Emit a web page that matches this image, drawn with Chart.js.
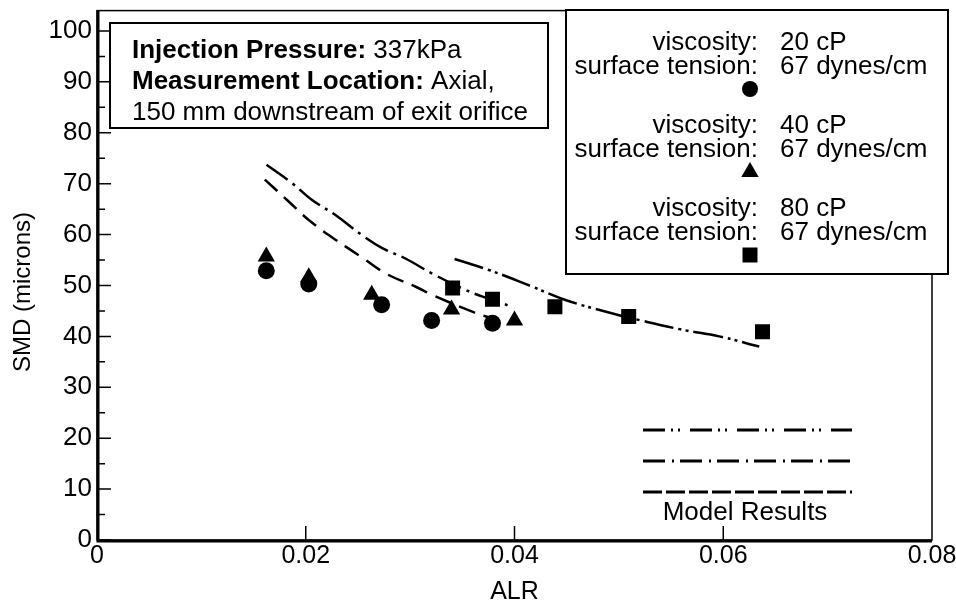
<!DOCTYPE html>
<html><head><meta charset="utf-8">
<script src="https://cdn.jsdelivr.net/npm/chart.js@4.4.0/dist/chart.umd.min.js"></script>
<style>html,body{margin:0;padding:0;background:#fff;}#wrap{width:956px;height:605px;}</style>
</head><body><div id="wrap"><canvas id="c" width="956" height="605"></canvas></div>
<script>
// ---- data ----
const xTicks = [0, 0.02, 0.04, 0.06, 0.08];
const xTickLabels = ['0', '0.02', '0.04', '0.06', '0.08'];
const yTicks = [0, 10, 20, 30, 40, 50, 60, 70, 80, 90, 100];
const yMinorTicks = [5, 15, 25, 35, 45, 55, 65, 75, 85, 95];

const alr20 = [0.01622, 0.02029, 0.02727, 0.03206, 0.03789];
const smd20 = [52.9, 50.3, 46.2, 43.1, 42.6];
const alr40 = [0.01622, 0.02029, 0.02632, 0.03397, 0.04000];
const smd40 = [55.7, 51.6, 48.2, 45.3, 43.1];
const alr80 = [0.03407, 0.03789, 0.04387, 0.05094, 0.06376];
const smd80 = [49.5, 47.3, 45.8, 43.9, 40.9];

const modelAlr20 = [0.01608, 0.01831, 0.02038, 0.02277, 0.02533, 0.02772, 0.03059, 0.03218, 0.03601, 0.03789];
const modelSmd20 = [70.8, 66.6, 62.7, 59.1, 55.6, 52.3, 49.7, 48.1, 44.8, 43.5];
const modelAlr40 = [0.01624, 0.01863, 0.02054, 0.02294, 0.02545, 0.02737, 0.02964, 0.03215, 0.03502, 0.03694, 0.03981];
const modelSmd40 = [73.7, 70.2, 66.9, 63.7, 59.8, 57.3, 55.2, 52.3, 49.4, 47.8, 45.8];
const modelAlr80 = [0.03426, 0.03761, 0.04143, 0.04495, 0.04940, 0.05196, 0.05610, 0.05962, 0.06345];
const modelSmd80 = [55.2, 53.0, 50.0, 47.1, 44.5, 43.2, 41.3, 40.0, 38.0];

const legendViscosity = ['20 cP', '40 cP', '80 cP'];
const legendTension = ['67 dynes/cm', '67 dynes/cm', '67 dynes/cm'];
const legendMarkers = ['circle', 'triangle', 'rect'];

const FONT = "'Liberation Sans', Arial, Helvetica, sans-serif";
Chart.defaults.font.family = FONT;
Chart.defaults.color = '#000';

const pts = (xs, ys) => xs.map((x, i) => ({x: x, y: ys[i]}));

function drawMarker(ctx, style, x, y) {
  ctx.beginPath();
  if (style === 'circle') { ctx.arc(x, y, 8, 0, Math.PI * 2); }
  else if (style === 'triangle') { ctx.moveTo(x, y - 10); ctx.lineTo(x + 8.7, y + 5); ctx.lineTo(x - 8.7, y + 5); ctx.closePath(); }
  else { ctx.rect(x - 7.5, y - 7.5, 15, 15); }
  ctx.fill();
}

const decor = {
  id: 'decor',
  beforeDatasetsDraw(chart) {
    const {ctx, chartArea: a, scales: {x, y}} = chart;
    ctx.save();
    ctx.strokeStyle = '#000';
    ctx.lineWidth = 1.5;
    ctx.strokeRect(a.left, a.top, a.right - a.left, a.bottom - a.top);
    ctx.lineWidth = 3;
    ctx.beginPath();
    ctx.moveTo(a.left + 1, a.top); ctx.lineTo(a.left + 1, a.bottom + 1);
    ctx.lineTo(a.right, a.bottom + 1);
    ctx.stroke();
    ctx.lineWidth = 1.5;
    ctx.beginPath();
    yTicks.forEach(v => { const p = y.getPixelForValue(v); ctx.moveTo(a.left, p); ctx.lineTo(a.left + 14, p); });
    yMinorTicks.forEach(v => { const p = y.getPixelForValue(v); ctx.moveTo(a.left, p); ctx.lineTo(a.left + 8, p); });
    xTicks.slice(1, -1).forEach(v => { const p = x.getPixelForValue(v); ctx.moveTo(p, a.bottom); ctx.lineTo(p, a.bottom - 14); });
    ctx.stroke();
    ctx.restore();
  },
  afterDraw(chart) {
    const ctx = chart.ctx;
    ctx.save();
    ctx.fillStyle = '#fff';
    ctx.strokeStyle = '#000';
    ctx.lineWidth = 2;
    // info box
    ctx.fillRect(110, 23, 438, 105);
    ctx.strokeRect(110, 23, 438, 105);
    ctx.fillStyle = '#000';
    ctx.textBaseline = 'middle';
    ctx.textAlign = 'left';
    const F = 26;
    ctx.font = 'bold ' + F + 'px ' + FONT;
    let w = ctx.measureText('Injection Pressure:').width;
    ctx.fillText('Injection Pressure:', 132, 51);
    ctx.font = F + 'px ' + FONT;
    ctx.fillText(' 337kPa', 132 + w, 51);
    ctx.font = 'bold ' + F + 'px ' + FONT;
    w = ctx.measureText('Measurement Location:').width;
    ctx.fillText('Measurement Location:', 132, 82);
    ctx.font = F + 'px ' + FONT;
    ctx.fillText(' Axial,', 132 + w, 82);
    ctx.fillText('150 mm downstream of exit orifice', 132, 113);

    // legend box
    ctx.fillStyle = '#fff';
    ctx.fillRect(566, 10, 382, 264);
    ctx.strokeRect(566, 10, 382, 264);
    ctx.fillStyle = '#000';
    ctx.font = F + 'px ' + FONT;
    for (let i = 0; i < 3; i++) {
      const g = 43 + i * 83;
      ctx.textAlign = 'right';
      ctx.fillText('viscosity:', 758, g);
      ctx.fillText('surface tension:', 758, g + 24);
      ctx.textAlign = 'left';
      ctx.fillText(legendViscosity[i], 780, g);
      ctx.fillText(legendTension[i], 780, g + 24);
      drawMarker(ctx, legendMarkers[i], 750, g + 46);
    }

    // model results legend
    ctx.strokeStyle = '#000';
    ctx.lineWidth = 3;
    const dashes = [[22, 6, 2, 5, 2, 10], [22, 7, 2, 6], [19, 4]];
    const ly = [430, 461, 492];
    for (let i = 0; i < 3; i++) {
      ctx.setLineDash(dashes[i]);
      ctx.beginPath(); ctx.moveTo(643, ly[i]); ctx.lineTo(852, ly[i]); ctx.stroke();
    }
    ctx.setLineDash([]);
    ctx.textAlign = 'center';
    ctx.fillText('Model Results', 745, 513);
    ctx.restore();
  }
};

new Chart(document.getElementById('c'), {
  type: 'scatter',
  data: {
    datasets: [
      {label: 'model 20', type: 'line', data: pts(modelAlr20, modelSmd20), borderColor: '#000', borderWidth: 2.5, borderDash: [17, 9], pointRadius: 0, tension: 0.4, fill: false},
      {label: 'model 40', type: 'line', data: pts(modelAlr40, modelSmd40), borderColor: '#000', borderWidth: 2.5, borderDash: [26, 6, 3, 6], pointRadius: 0, tension: 0.4, fill: false},
      {label: 'model 80', type: 'line', data: pts(modelAlr80, modelSmd80), borderColor: '#000', borderWidth: 2.5, borderDash: [30, 5, 3, 4, 3, 5], pointRadius: 0, tension: 0.4, fill: false},
      {label: '20 cP', data: pts(alr20, smd20), pointStyle: 'circle', pointRadius: 8.5, backgroundColor: '#000', borderColor: '#000', borderWidth: 0},
      {label: '40 cP', data: pts(alr40, smd40), pointStyle: 'triangle', pointRadius: 10, backgroundColor: '#000', borderColor: '#000', borderWidth: 0},
      {label: '80 cP', data: pts(alr80, smd80), pointStyle: 'rect', pointRadius: 10.6, backgroundColor: '#000', borderColor: '#000', borderWidth: 0}
    ]
  },
  options: {
    responsive: false, animation: false, devicePixelRatio: 1,
    layout: {padding: {top: 7, right: 24, left: 0, bottom: 0}},
    plugins: {legend: {display: false}, tooltip: {enabled: false}},
    scales: {
      x: {
        type: 'linear', min: 0, max: 0.08,
        afterBuildTicks: s => { s.ticks = xTicks.map(v => ({value: v})); },
        ticks: {callback: (v, i) => xTickLabels[i], font: {size: 25, lineHeight: 1.2}, color: '#000', padding: 1, maxRotation: 0, autoSkip: false},
        grid: {display: false, drawTicks: false}, border: {display: false},
        title: {display: true, text: 'ALR', color: '#000', font: {size: 25, lineHeight: 1}, padding: {top: 0, bottom: 0}},
        afterFit: s => { s.height = 65; s.paddingLeft = 0; s.paddingRight = 0; }
      },
      y: {
        type: 'linear', min: 0, max: 104,
        afterBuildTicks: s => { s.ticks = yTicks.map(v => ({value: v})); },
        ticks: {font: {size: 26, lineHeight: 1.2}, color: '#000', padding: 5, autoSkip: false},
        grid: {display: false, drawTicks: false}, border: {display: false},
        title: {display: true, text: 'SMD (microns)\u00a0\u00a0\u00a0\u00a0\u00a0', color: '#000', font: {size: 24, lineHeight: 1}, padding: {top: 11, bottom: 0}},
        afterFit: s => { s.width = 97; s.paddingTop = 0; s.paddingBottom = 0; }
      }
    }
  },
  plugins: [decor]
});
</script>
</body></html>
